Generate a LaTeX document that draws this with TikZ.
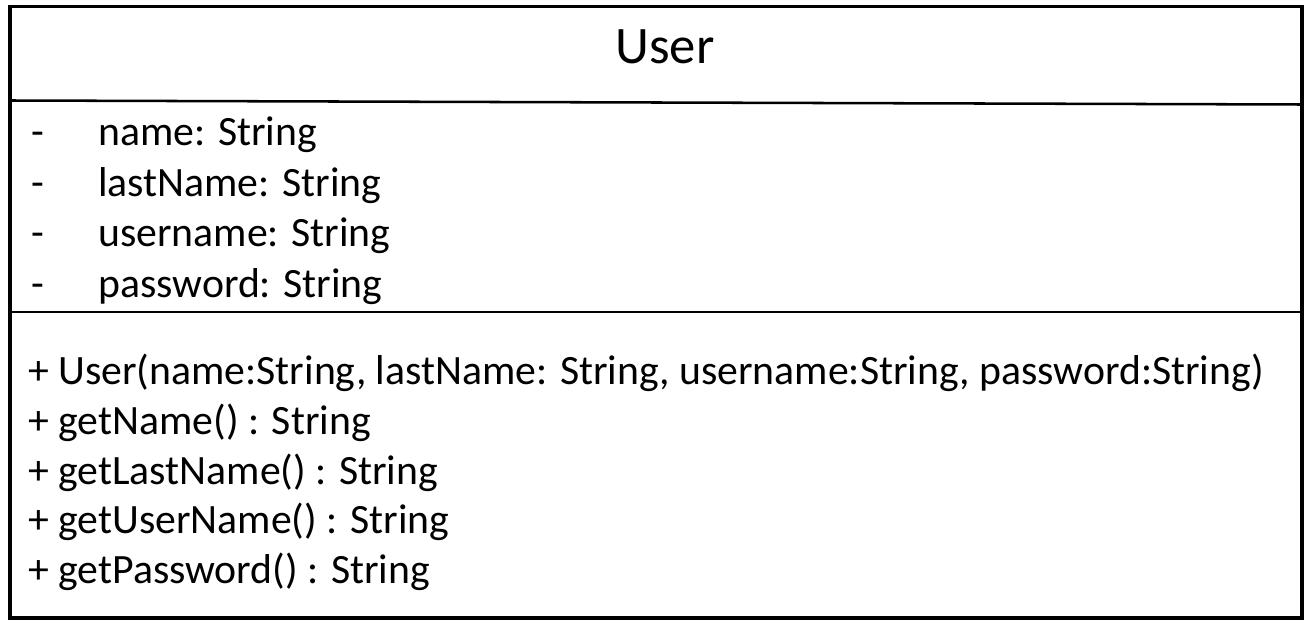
\documentclass[tikz,border=0pt]{standalone}
\usepackage{fontspec}
\setmainfont{Carlito}
\begin{document}
\begin{tikzpicture}[x=0.75pt,y=-0.75pt,
  txt/.style={anchor=base west,inner sep=0pt,font=\fontsize{31.3pt}{34pt}\selectfont},
  ttl/.style={anchor=base,inner sep=0pt,font=\fontsize{39.5pt}{44pt}\selectfont},
  frame/.style={line width=2.6pt},
  divider/.style={line width=1.9pt}]
\useasboundingbox (0,0) rectangle (1310,624);
\fill[white] (0,0) rectangle (1310,624);
\draw[frame] (10,6.5) rectangle (1302,618);
\coordinate (d1l) at (10,100.5);
\coordinate (d1r) at (1302,104.5);
\coordinate (d2l) at (10,312);
\coordinate (d2r) at (1302,312);
\draw[divider] (d1l) -- (d1r);
\draw[divider] (d2l) -- (d2r);
\node[ttl] (title) at (665,64) {User};
\node[txt] (m1) at (31,146) {-};
\node[txt] (a1) at (98,146) {name: String};
\node[txt] (m2) at (31,196) {-};
\node[txt] (a2) at (98,196) {lastName: String};
\node[txt] (m3) at (31,246) {-};
\node[txt] (a3) at (98,246) {username: String};
\node[txt] (m4) at (31,297) {-};
\node[txt] (a4) at (98,297) {password: String};
\node[txt] (o1) at (28,384) {+ User(name:String, lastName: String, username:String, password:String)};
\node[txt] (o2) at (28,434) {+ getName() : String};
\node[txt] (o3) at (28,484) {+ getLastName() : String};
\node[txt] (o4) at (28,533) {+ getUserName() : String};
\node[txt] (o5) at (28,583) {+ getPassword() : String};
\end{tikzpicture}
\end{document}
